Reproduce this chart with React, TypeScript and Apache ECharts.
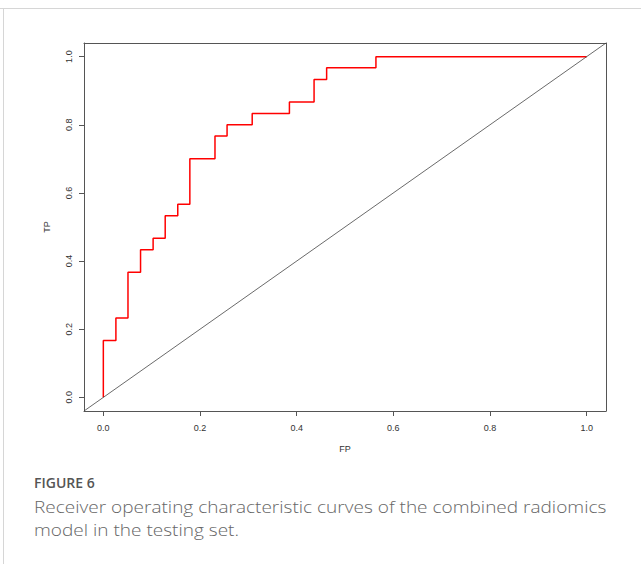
import React, { useEffect, useRef } from "react";
import * as echarts from "echarts";

// ROC curve corner points
const fpValues = [0, 0, 0.026, 0.051, 0.077, 0.103, 0.128, 0.154, 0.179, 0.231, 0.256, 0.308, 0.385, 0.436, 0.462, 0.564, 1.0];
const tpValues = [0, 0.167, 0.233, 0.367, 0.433, 0.467, 0.533, 0.567, 0.7, 0.767, 0.8, 0.833, 0.867, 0.933, 0.967, 1.0, 1.0];

// axis
const axisLimits = [-0.04, 1.04];
const tickValues = [0, 0.2, 0.4, 0.6, 0.8, 1.0];
const tickLabels = ["0.0", "0.2", "0.4", "0.6", "0.8", "1.0"];

// reference diagonal (abline 0,1) across the whole plot region
const diagX = [-0.04, 1.04];
const diagY = [-0.04, 1.04];

const xName = "FP";
const yName = "TP";
const figureLabel = "FIGURE 6";
const captionLines = [
  "Receiver operating characteristic curves of the combined radiomics",
  "model in the testing set.",
];

export default function App() {
  const ref = useRef<HTMLDivElement>(null);
  useEffect(() => {
    if (!ref.current) return;
    const chart = echarts.init(ref.current, undefined, { renderer: "svg" });
    const font = "'Liberation Sans', Arial, Helvetica, sans-serif";
    const boxColor = "#555555";
    const labelFmt = (v: number) => {
      const i = tickValues.findIndex((t) => Math.abs(t - v) < 1e-9);
      return i >= 0 ? tickLabels[i] : "";
    };
    const frameAxis = (position: string) => ({
      type: "value",
      position,
      min: axisLimits[0],
      max: axisLimits[1],
      axisLine: { show: true, onZero: false, lineStyle: { color: boxColor, width: 1 } },
      axisTick: { show: false },
      axisLabel: { show: false },
      splitLine: { show: false },
    });
    chart.setOption({
      animation: false,
      backgroundColor: "#ffffff",
      grid: {
        left: 84,
        top: 43,
        width: 522,
        height: 368,
      },
      xAxis: [
        {
          type: "value",
          position: "bottom",
          min: axisLimits[0],
          max: axisLimits[1],
          name: xName,
          nameLocation: "middle",
          nameGap: 33,
          nameTextStyle: { color: "#333", fontFamily: font, fontSize: 9 },
          axisLine: { show: true, onZero: false, lineStyle: { color: boxColor, width: 1 } },
          splitLine: { show: false },
          axisTick: {
            show: true,
            length: 5,
            customValues: tickValues,
            lineStyle: { color: boxColor, width: 1 },
          },
          axisLabel: {
            customValues: tickValues,
            formatter: labelFmt,
            margin: 12,
            color: "#333",
            fontFamily: font,
            fontSize: 9,
          },
        },
        frameAxis("top"),
      ],
      yAxis: [
        {
          type: "value",
          position: "left",
          min: axisLimits[0],
          max: axisLimits[1],
          name: yName,
          nameLocation: "middle",
          nameGap: 33,
          nameRotate: 90,
          nameTextStyle: { color: "#333", fontFamily: font, fontSize: 9 },
          axisLine: { show: true, onZero: false, lineStyle: { color: boxColor, width: 1 } },
          splitLine: { show: false },
          axisTick: {
            show: true,
            length: 5,
            customValues: tickValues,
            lineStyle: { color: boxColor, width: 1 },
          },
          axisLabel: {
            customValues: tickValues,
            formatter: labelFmt,
            rotate: 90,
            margin: 11,
            color: "#333",
            fontFamily: font,
            fontSize: 9,
          },
        },
        frameAxis("right"),
      ],
      series: [
        {
          type: "line",
          name: "ROC",
          step: "end",
          showSymbol: false,
          xAxisIndex: 0,
          yAxisIndex: 0,
          data: fpValues.map((x, i) => [x, tpValues[i]]),
          lineStyle: { color: "#ff0000", width: 1.5 },
          z: 2,
        },
        {
          type: "line",
          name: "reference",
          showSymbol: false,
          xAxisIndex: 0,
          yAxisIndex: 0,
          data: diagX.map((x, i) => [x, diagY[i]]),
          lineStyle: { color: "#444444", width: 0.8 },
          z: 3,
        },
      ],
      graphic: [
        {
          type: "line",
          shape: { x1: 0, y1: 8.5, x2: 641, y2: 8.5 },
          style: { stroke: "#d6d6d6", lineWidth: 1 },
        },
        {
          type: "line",
          shape: { x1: 3.5, y1: 8.5, x2: 3.5, y2: 564 },
          style: { stroke: "#d6d6d6", lineWidth: 1 },
        },
        {
          type: "text",
          x: 34,
          y: 475,
          style: {
            text: figureLabel,
            fill: "#555555",
            font: "600 14px 'Open Sans', sans-serif",
            verticalAlign: "top",
          },
        },
        {
          type: "text",
          x: 34,
          y: 495,
          scaleX: 1.12,
          style: {
            text: captionLines.join("\n"),
            fill: "#666666",
            font: "300 17px 'Open Sans', sans-serif",
            lineHeight: 23,
            verticalAlign: "top",
          },
        },
      ],
    });
    return () => chart.dispose();
  }, []);
  return (
    <div
      ref={ref}
      style={{ position: "absolute", left: 0, top: 0, width: 641, height: 564 }}
    />
  );
}
